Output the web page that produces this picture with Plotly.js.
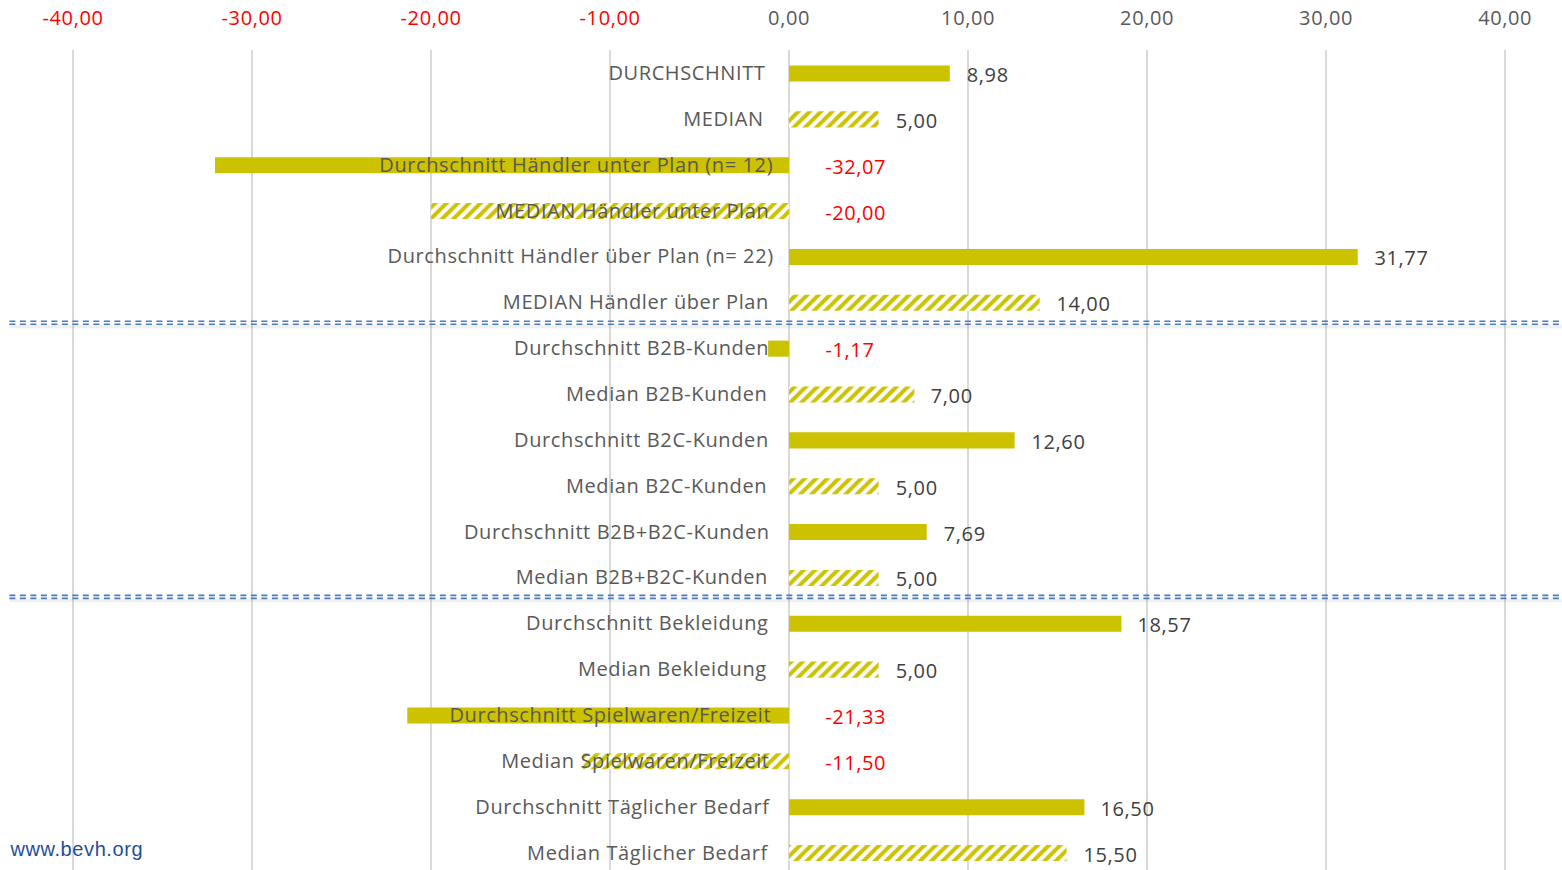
<!DOCTYPE html>
<html>
<head>
<meta charset="utf-8">
<script src="https://cdn.plot.ly/plotly-3.0.1.min.js"></script>
<style>
html,body{margin:0;padding:0;background:#fff;}
#chart{width:1562px;height:870px;}
#chart text{letter-spacing:0.6px;}
</style>
</head>
<body>
<div id="chart"></div>
<script>
const categories = [
  "DURCHSCHNITT",
  "MEDIAN",
  "Durchschnitt Händler unter Plan (n= 12)",
  "MEDIAN Händler unter Plan",
  "Durchschnitt Händler über Plan (n= 22)",
  "MEDIAN Händler über Plan",
  "Durchschnitt B2B-Kunden",
  "Median B2B-Kunden",
  "Durchschnitt B2C-Kunden",
  "Median B2C-Kunden",
  "Durchschnitt B2B+B2C-Kunden",
  "Median B2B+B2C-Kunden",
  "Durchschnitt Bekleidung",
  "Median Bekleidung",
  "Durchschnitt Spielwaren/Freizeit",
  "Median Spielwaren/Freizeit",
  "Durchschnitt Täglicher Bedarf",
  "Median Täglicher Bedarf"
];
const values = [8.98, 5.00, -32.07, -20.00, 31.77, 14.00, -1.17, 7.00, 12.60, 5.00, 7.69, 5.00, 18.57, 5.00, -21.33, -11.50, 16.50, 15.50];
const kinds = ["avg","median","avg","median","avg","median","avg","median","avg","median","avg","median","avg","median","avg","median","avg","median"];
const tickValues = [-40, -30, -20, -10, 0, 10, 20, 30, 40];
const tickLabels = ["-40,00", "-30,00", "-20,00", "-10,00", "0,00", "10,00", "20,00", "30,00", "40,00"];
const separatorsAfter = [5, 11];
const sourceText = "www.bevh.org";

const YELLOW = "#CCC200";
const RED = "#FF0000";
const GRAY = "#595959";
const fmt = v => v.toFixed(2).replace(".", ",");

const trace = {
  type: "bar",
  orientation: "h",
  y: categories,
  x: values,
  marker: {
    color: YELLOW,
    line: {width: 0},
    pattern: {
      shape: kinds.map(k => k === "median" ? "/" : ""),
      fgcolor: YELLOW,
      bgcolor: "#FFFFFF",
      size: 8,
      solidity: 0.5,
      fillmode: "replace"
    }
  },
  hoverinfo: "x+y"
};

const annotations = [];
categories.forEach((c, i) => {
  annotations.push({
    x: 0, y: c, xref: "x", yref: "y",
    text: c, showarrow: false, xanchor: "right", yanchor: "middle",
    xshift: -25, yshift: 1,
    font: {family: "Open Sans", size: 20, color: GRAY}
  });
  const v = values[i];
  annotations.push({
    x: Math.max(v, 0), y: c, xref: "x", yref: "y",
    text: fmt(v), showarrow: false, xanchor: "left", yanchor: "middle",
    xshift: v < 0 ? 36 : 16, yshift: -1,
    font: {family: "Open Sans", size: 20, color: v < 0 ? RED : "#404040"}
  });
});
annotations.push({
  x: 11 / 1562, y: (870 - 849) / 820, xref: "paper", yref: "paper",
  text: sourceText, showarrow: false, xanchor: "left", yanchor: "middle",
  font: {family: "Liberation Sans", size: 20, color: "#1F4E99"}
});

const shapes = [];
separatorsAfter.forEach((idx, k) => {
  const ymid = idx + 0.5;
  const off = k === 0 ? 3 : 4;
  shapes.push({type: "line", xref: "paper", yref: "y", x0: 0.006, x1: 1,
    ysizemode: "pixel", yanchor: ymid, y0: off - 4, y1: off - 4,
    line: {color: "rgba(120,120,120,0.12)", width: 3}});
  shapes.push({type: "line", xref: "paper", yref: "y", x0: 0.006, x1: 1,
    ysizemode: "pixel", yanchor: ymid, y0: off - 1.5, y1: off - 1.5,
    line: {color: "#4A7BC0", width: 1.6, dash: "6px,4.5px"}});
  shapes.push({type: "line", xref: "paper", yref: "y", x0: 0.006, x1: 1,
    ysizemode: "pixel", yanchor: ymid, y0: off + 1.5, y1: off + 1.5,
    line: {color: "#4A7BC0", width: 1.6, dash: "6px,4.5px"}});
});

const layout = {
  width: 1562, height: 870,
  margin: {l: 0, r: 0, t: 50, b: 0},
  paper_bgcolor: "#FFFFFF", plot_bgcolor: "#FFFFFF",
  showlegend: false,
  bargap: 0.65,
  xaxis: {
    side: "top",
    range: [-44.08, 43.18],
    tickvals: tickValues,
    ticktext: tickValues.map((v, i) => '<span style="color:' + (v < 0 ? RED : GRAY) + '">' + tickLabels[i] + '</span>'),
    ticks: "outside", ticklen: 16, tickcolor: "rgba(0,0,0,0)",
    showgrid: true, gridcolor: "#D9D9D9", gridwidth: 2,
    zeroline: false, showline: false,
    tickfont: {family: "Open Sans", size: 20, color: GRAY},
    fixedrange: true
  },
  yaxis: {
    type: "category",
    range: [17.37, -0.513],
    showticklabels: false, showgrid: false, zeroline: false, showline: false, ticks: "",
    fixedrange: true
  },
  shapes: shapes,
  annotations: annotations
};

Plotly.newPlot("chart", [trace], layout, {displayModeBar: false, staticPlot: true});
</script>
</body>
</html>
